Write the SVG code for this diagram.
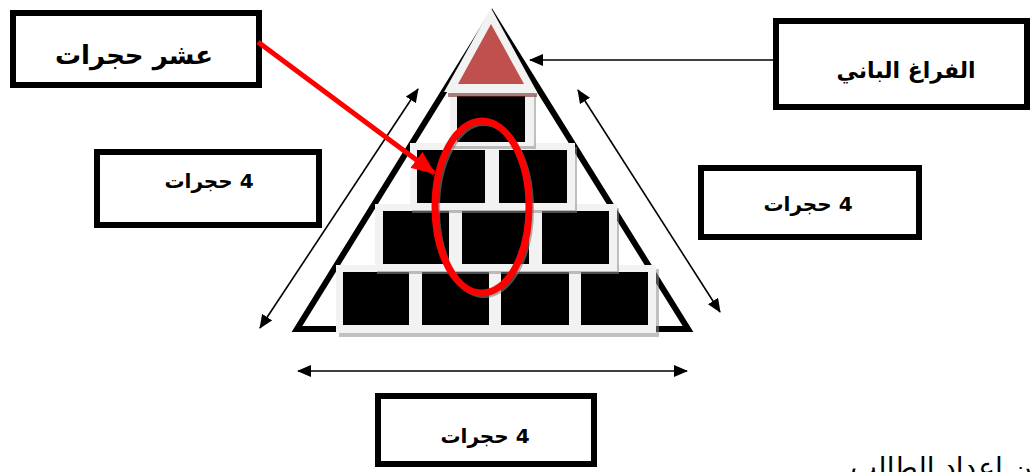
<svg xmlns="http://www.w3.org/2000/svg" width="1032" height="472" viewBox="0 0 1032 472">
  <defs>
    <style>
      .box { fill: #ffffff; stroke: #000000; stroke-width: 6; }
      .label { font-family: "DejaVu Sans", "Noto Sans", sans-serif; font-weight: bold; fill: #000000; text-anchor: middle; direction: rtl; unicode-bidi: embed; }
      .frame { fill: #f2f2f2; }
      .stone { fill: #000000; }
      .shade { fill: #8c8c8c; opacity: 0.55; }
      .thin { stroke: #000000; stroke-width: 1.6; fill: none; }
    </style>
    <marker id="head" viewBox="0 0 14 12" refX="13" refY="6" markerWidth="14" markerHeight="12" markerUnits="userSpaceOnUse" orient="auto-start-reverse">
      <path d="M0,0 L14,6 L0,12 Z" fill="#000000"/>
    </marker>
    <marker id="redhead" viewBox="0 0 24 20" refX="22" refY="10" markerWidth="24" markerHeight="20" markerUnits="userSpaceOnUse" orient="auto">
      <path d="M0,0 L24,10 L0,20 Z" fill="#ff0000"/>
    </marker>
  </defs>

  <rect width="1032" height="472" fill="#ffffff"/>

  <!-- pyramid outline -->
  <g id="pyramid-outline">
    <polygon points="492,14 297,329 688,329" fill="none" stroke="#000000" stroke-width="6" stroke-linejoin="miter"/>
  </g>

  <!-- stones, bottom row first so upper shadows fall on lower frames -->
  <g id="row4">
    <rect class="shade" x="339" y="269" width="320" height="68"/>
    <rect class="frame" x="336" y="265" width="80" height="68"/>
    <rect class="frame" x="415" y="265" width="81" height="68"/>
    <rect class="frame" x="494" y="265" width="82" height="68"/>
    <rect class="frame" x="574" y="265" width="82" height="68"/>
    <rect class="stone" x="343" y="272" width="66" height="53"/>
    <rect class="stone" x="422" y="272" width="67" height="53"/>
    <rect class="stone" x="501" y="272" width="68" height="53"/>
    <rect class="stone" x="581" y="272" width="67" height="53"/>
  </g>
  <g id="row3">
    <rect class="shade" x="377" y="208" width="242" height="66"/>
    <rect class="frame" x="375" y="204" width="81" height="67"/>
    <rect class="frame" x="455" y="204" width="82" height="67"/>
    <rect class="frame" x="535" y="204" width="82" height="67"/>
    <rect class="stone" x="383" y="211" width="66" height="53"/>
    <rect class="stone" x="462" y="211" width="67" height="53"/>
    <rect class="stone" x="542" y="211" width="67" height="53"/>
  </g>
  <g id="row2">
    <rect class="shade" x="412" y="147" width="165" height="66"/>
    <rect class="frame" x="410" y="143" width="83" height="67"/>
    <rect class="frame" x="491" y="143" width="84" height="67"/>
    <rect class="stone" x="417" y="150" width="68" height="53"/>
    <rect class="stone" x="499" y="150" width="68" height="53"/>
  </g>
  <g id="row1">
    <rect class="shade" x="452" y="95" width="84" height="54"/>
    <rect class="frame" x="450" y="92" width="84" height="54"/>
    <rect class="stone" x="457" y="96" width="68" height="46"/>
  </g>
  <g id="capstone">
    <rect x="448" y="93" width="89" height="4" fill="#7a2e2e" opacity="0.6"/>
    <polygon points="491,8 444,92 537,92" fill="#f2f2f2"/>
    <polygon points="491,24 458,84 524,84" fill="#c0504d"/>
  </g>

  <!-- highlight ring round the ten stones -->
  <g id="highlight">
    <ellipse cx="484" cy="209" rx="47" ry="86" fill="none" stroke="#7f7f7f" stroke-width="6" opacity="0.6"/>
    <ellipse cx="482" cy="207" rx="47" ry="86" fill="none" stroke="#ff0000" stroke-width="7"/>
  </g>

  <!-- label boxes -->
  <g id="ten-stones">
    <rect class="box" x="13" y="13" width="246" height="72"/>
    <text class="label" x="134" y="64" font-size="26">عشر حجرات</text>
  </g>
  <g id="building-void">
    <rect class="box" x="776" y="21" width="251" height="86"/>
    <text class="label" x="906" y="78" font-size="22">الفراغ الباني</text>
  </g>
  <g id="left-side">
    <rect class="box" x="97" y="152" width="222" height="73"/>
    <text class="label" x="209" y="188" font-size="20">4 حجرات</text>
  </g>
  <g id="right-side">
    <rect class="box" x="701" y="168" width="218" height="69"/>
    <text class="label" x="808" y="211" font-size="20">4 حجرات</text>
  </g>
  <g id="base-side">
    <rect class="box" x="378" y="396" width="216" height="68"/>
    <text class="label" x="485" y="443" font-size="20">4 حجرات</text>
  </g>

  <!-- connectors -->
  <g id="connectors">
    <line class="thin" x1="773" y1="60" x2="530" y2="60" marker-end="url(#head)"/>
    <line class="thin" x1="260" y1="328" x2="418" y2="89" marker-start="url(#head)" marker-end="url(#head)"/>
    <line class="thin" x1="578" y1="90" x2="720" y2="312" marker-start="url(#head)" marker-end="url(#head)"/>
    <line class="thin" x1="298" y1="371" x2="687" y2="371" marker-start="url(#head)" marker-end="url(#head)"/>
    <line x1="258" y1="42" x2="434" y2="173" stroke="#ff0000" stroke-width="5" marker-end="url(#redhead)"/>
  </g>

  <!-- source note, running off the lower edge -->
  <g id="source-note">
    <text x="1048" y="477" font-family="DejaVu Sans, sans-serif" font-size="28" text-anchor="start" direction="rtl" unicode-bidi="embed" fill="#000000">من إعداد الطالب</text>
  </g>
</svg>
